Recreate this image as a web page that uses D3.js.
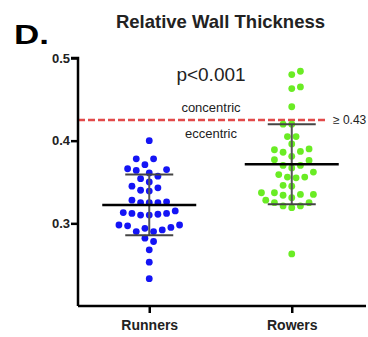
<!DOCTYPE html>
<html>
<head>
<meta charset="utf-8">
<script src="https://cdn.jsdelivr.net/npm/d3@7"></script>
<style>
  body { margin: 0; background: #fff; }
  svg { display: block; font-family: "Liberation Sans", Arial, sans-serif; }
</style>
</head>
<body>
<svg id="chart"></svg>
<script>
const groups = ["Runners", "Rowers"];

const runners = [
  0.400, 0.378, 0.378, 0.371, 0.366, 0.364, 0.357, 0.354, 0.361, 0.365,
  0.350, 0.343, 0.339, 0.340, 0.345, 0.326, 0.325, 0.325, 0.325, 0.328,
  0.315, 0.312, 0.311, 0.310, 0.310, 0.312, 0.313, 0.298, 0.297, 0.294,
  0.290, 0.290, 0.292, 0.295, 0.298, 0.282, 0.278, 0.268, 0.253, 0.233
];

const rowers = [
  0.484, 0.480, 0.465, 0.463, 0.441, 0.420, 0.420, 0.405, 0.405, 0.396,
  0.389, 0.386, 0.387, 0.390, 0.377, 0.381, 0.376, 0.370, 0.367, 0.370,
  0.359, 0.355, 0.356, 0.356, 0.362, 0.346, 0.345, 0.337, 0.335, 0.334,
  0.335, 0.337, 0.331, 0.328, 0.325, 0.321, 0.319, 0.321, 0.325, 0.263
];

const yTicks = [0.3, 0.4, 0.5];
const cutoff = 0.425;

const colors = { Runners: "#1414f5", Rowers: "#6aec24" };

const w = 368, h = 337;
const svg = d3.select("#chart").attr("width", w).attr("height", h);

const y = d3.scaleLinear().domain([0.2, 0.5]).range([306, 58]);
const x = d3.scalePoint().domain(groups).range([78, 363]).padding(0.5);

// simple beeswarm: lowest values take the centre first
function swarm(values) {
  const step = 4.33, minDist = 8.4;
  const pts = values.map(v => ({ v: v, y: y(v) })).sort((a, b) => a.v - b.v);
  const placed = [];
  pts.forEach((p, i) => {
    for (let k = 0; ; k++) {
      const cands = k === 0 ? [0] : (i % 2 ? [k * step, -k * step] : [-k * step, k * step]);
      const hit = cands.find(o => placed.every(q => Math.hypot(q.o - o, q.y - p.y) >= minDist));
      if (hit !== undefined) { p.o = hit; break; }
    }
    placed.push(p);
  });
  return placed;
}

const series = [
  { name: "Runners", values: runners },
  { name: "Rowers", values: rowers }
];

// cutoff line
svg.append("line")
   .attr("x1", 78).attr("x2", 326)
   .attr("y1", y(cutoff)).attr("y2", y(cutoff))
   .attr("stroke", "#e24a4a")
   .attr("stroke-width", 2.5)
   .attr("stroke-dasharray", "7,3");

// dots
series.forEach(s => {
  svg.append("g")
     .selectAll("circle")
     .data(swarm(s.values))
     .join("circle")
     .attr("cx", d => x(s.name) + d.o)
     .attr("cy", d => d.y)
     .attr("r", 3.4)
     .attr("fill", colors[s.name]);
});

// mean and SD
series.forEach(s => {
  const m = d3.mean(s.values), sd = d3.deviation(s.values);
  const cx = x(s.name);
  const g = svg.append("g");
  g.append("line")
   .attr("x1", cx).attr("x2", cx)
   .attr("y1", y(m + sd)).attr("y2", y(m - sd))
   .attr("stroke", "#555").attr("stroke-width", 2);
  [m + sd, m - sd].forEach(v => {
    g.append("line")
     .attr("x1", cx - 24).attr("x2", cx + 24)
     .attr("y1", y(v)).attr("y2", y(v))
     .attr("stroke", "#444").attr("stroke-width", 2);
  });
  g.append("line")
   .attr("x1", cx - 47).attr("x2", cx + 47)
   .attr("y1", y(m)).attr("y2", y(m))
   .attr("stroke", "#000").attr("stroke-width", 2.5);
});

// axes
const yAxis = svg.append("g")
   .attr("transform", "translate(78,0)")
   .call(d3.axisLeft(y).tickValues(yTicks).tickFormat(d3.format(".1f")).tickSize(7).tickPadding(1));

const xAxis = svg.append("g")
   .attr("transform", "translate(0,306)")
   .call(d3.axisBottom(x).tickSize(7).tickPadding(7));

[yAxis, xAxis].forEach(a => {
  a.select(".domain").attr("stroke", "#000").attr("stroke-width", 2.5);
  a.selectAll(".tick line").attr("stroke", "#000").attr("stroke-width", 2.5);
  a.selectAll("text").attr("fill", "#222").attr("font-weight", "bold")
   .attr("font-family", "Liberation Sans, Arial, sans-serif");
});
yAxis.select(".domain").attr("d", "M0,306V58H-7");
xAxis.select(".domain").attr("d", "M78,0H366");
yAxis.selectAll("text").attr("font-size", 13);
xAxis.selectAll("text").attr("font-size", 14);

// texts
svg.append("text")
   .attr("x", 14).attr("y", 44)
   .attr("font-size", 27).attr("font-weight", "bold")
   .attr("textLength", 35).attr("lengthAdjust", "spacingAndGlyphs")
   .text("D.");

svg.append("text")
   .attr("x", 220.5).attr("y", 28)
   .attr("text-anchor", "middle")
   .attr("font-size", 18.5).attr("font-weight", "bold")
   .attr("fill", "#222")
   .text("Relative Wall Thickness");

svg.append("text")
   .attr("x", 211).attr("y", 81)
   .attr("text-anchor", "middle")
   .attr("font-size", 19)
   .attr("fill", "#222")
   .text("p<0.001");

svg.append("text")
   .attr("x", 211).attr("y", 112)
   .attr("text-anchor", "middle")
   .attr("font-size", 13)
   .attr("fill", "#222")
   .text("concentric");

svg.append("text")
   .attr("x", 211).attr("y", 138)
   .attr("text-anchor", "middle")
   .attr("font-size", 13)
   .attr("fill", "#222")
   .text("eccentric");

svg.append("text")
   .attr("x", 333).attr("y", 124)
   .attr("font-size", 12)
   .attr("fill", "#222")
   .text("≥ 0.43");
</script>
</body>
</html>
